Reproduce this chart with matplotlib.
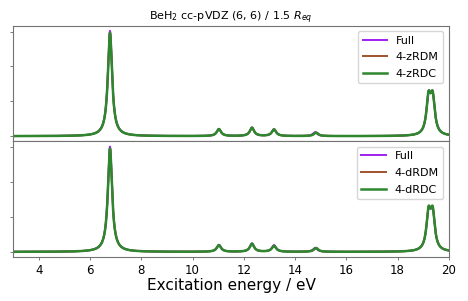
import numpy as np
import matplotlib
matplotlib.use("Agg")
import matplotlib.pyplot as plt

# stick spectra (excitation energy / eV, intensity) for each method
e_full = [6.78, 11.03, 12.32, 13.18, 14.78, 19.21, 19.37]
i_full = [3.02, 0.20, 0.24, 0.19, 0.11, 1.01, 1.01]

e_zrdm = [6.78, 11.03, 12.32, 13.18, 14.82, 19.21, 19.37]
i_zrdm = [2.97, 0.20, 0.24, 0.19, 0.10, 1.01, 1.01]
e_zrdc = [6.78, 11.03, 12.32, 13.18, 14.82, 19.21, 19.37]
i_zrdc = [2.96, 0.20, 0.24, 0.19, 0.10, 1.01, 1.01]

e_drdm = [6.78, 11.03, 12.32, 13.18, 14.82, 19.21, 19.37]
i_drdm = [2.97, 0.19, 0.23, 0.17, 0.11, 1.02, 1.02]
e_drdc = [6.78, 11.03, 12.32, 13.18, 14.82, 19.21, 19.37]
i_drdc = [2.96, 0.19, 0.23, 0.17, 0.11, 1.02, 1.02]

hwhm = 0.1  # Lorentzian broadening, eV
grid = np.linspace(3, 20, 3000)


def broaden(energies, intens):
    e = np.asarray(energies)[:, None]
    a = np.asarray(intens)[:, None]
    return (a * hwhm**2 / ((grid - e)**2 + hwhm**2)).sum(axis=0)


fig, axes = plt.subplots(2, 1, figsize=(4.68, 3.01), dpi=100, sharex=True)
fig.subplots_adjust(left=0.028, right=0.959, top=0.915, bottom=0.146, hspace=0)

panels = [
    (axes[0], [("Full", e_full, i_full), ("4-zRDM", e_zrdm, i_zrdm),
               ("4-zRDC", e_zrdc, i_zrdc)]),
    (axes[1], [("Full", e_full, i_full), ("4-dRDM", e_drdm, i_drdm),
               ("4-dRDC", e_drdc, i_drdc)]),
]
styles = [("#a020f0", 1.4), ("#a0522d", 1.4), ("#2e872e", 1.8)]

for ax, series in panels:
    for (lab, e, i), (c, lw) in zip(series, styles):
        ax.plot(grid, broaden(e, i), color=c, lw=lw, label=lab)
    ax.set_xlim(3, 20)
    ax.set_yticks([0, 1, 2, 3])
    ax.tick_params(axis="y", labelleft=False, length=2.5, width=0.6, color="0.4")
    ax.tick_params(axis="x", length=2.5, width=0.6, color="0.4", labelsize=8.5,
                   pad=2.5)
    for s in ax.spines.values():
        s.set_color("0.45")
        s.set_linewidth(0.8)
    ax.legend(loc="upper right", fontsize=8, handlelength=2.2,
              labelspacing=0.6, borderaxespad=0.5)

axes[0].set_title(r"BeH$_2$ cc-pVDZ (6, 6) / 1.5 $R_{eq}$", fontsize=8, pad=4)
axes[1].set_xticks([4, 6, 8, 10, 12, 14, 16, 18, 20])
axes[1].set_xlabel("Excitation energy / eV", fontsize=11, labelpad=1)

fig.savefig("out.png", dpi=100)
